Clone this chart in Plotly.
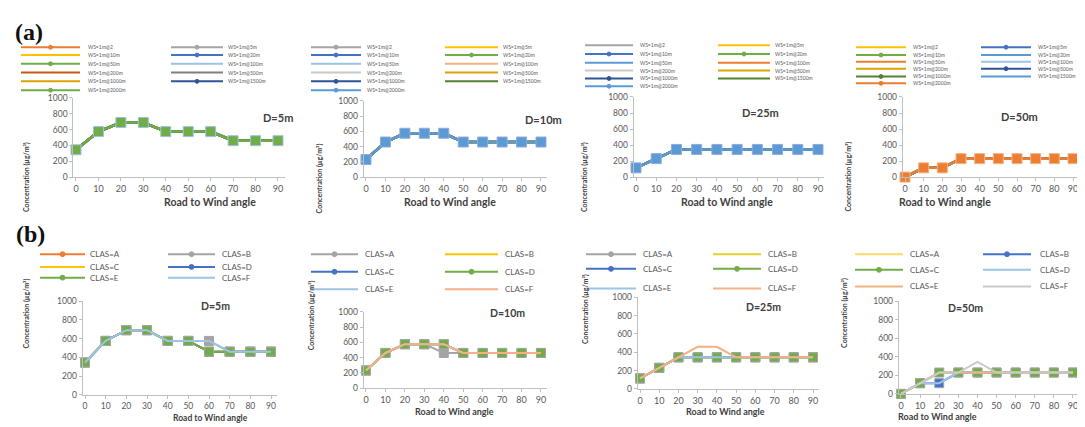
import plotly.graph_objects as go

W, H = 1085, 427

# ---------------- data ----------------
angles = [0, 10, 20, 30, 40, 50, 60, 70, 80, 90]
x_tick_vals = [0, 10, 20, 30, 40, 50, 60, 70, 80, 90]
y_tick_vals = [0, 200, 400, 600, 800, 1000]

distance_titles = ["D=5m", "D=10m", "D=25m", "D=50m"]

# (a) all eleven series overlap in every panel
a_d5 = [345, 575, 690, 690, 575, 575, 575, 460, 460, 460]
a_d10 = [230, 460, 575, 575, 575, 460, 460, 460, 460, 460]
a_d25 = [115, 230, 345, 345, 345, 345, 345, 345, 345, 345]
a_d50 = [0, 115, 115, 230, 230, 230, 230, 230, 230, 230]

a_labels = ["WS=1m@2", "WS=1m@5m", "WS=1m@10m", "WS=1m@20m", "WS=1m@50m", "WS=1m@100m",
            "WS=1m@200m", "WS=1m@500m", "WS=1m@1000m", "WS=1m@1500m", "WS=1m@2000m"]

# (b) stability classes
b_labels = ["CLAS=A", "CLAS=B", "CLAS=C", "CLAS=D", "CLAS=E", "CLAS=F"]

b_d5_A = [345, 575, 690, 690, 575, 575, 460, 460, 460, 460]
b_d5_B = [345, 575, 690, 690, 575, 575, 575, 460, 460, 460]
b_d5_C = [345, 575, 690, 690, 575, 575, 460, 460, 460, 460]
b_d5_D = [345, 575, 690, 690, 575, 575, 460, 460, 460, 460]
b_d5_E = [345, 575, 690, 690, 575, 575, 460, 460, 460, 460]
b_d5_F = [345, 575, 690, 690, 575, 575, 575, 460, 460, 460]

b_d10_A = [230, 460, 575, 575, 460, 460, 460, 460, 460, 460]
b_d10_B = [230, 460, 575, 575, 575, 460, 460, 460, 460, 460]
b_d10_C = [230, 460, 575, 575, 575, 460, 460, 460, 460, 460]
b_d10_D = [230, 460, 575, 575, 575, 460, 460, 460, 460, 460]
b_d10_E = [230, 460, 575, 575, 575, 460, 460, 460, 460, 460]
b_d10_F = [230, 460, 575, 575, 575, 460, 460, 460, 460, 460]

b_d25_A = [115, 230, 345, 345, 345, 345, 345, 345, 345, 345]
b_d25_B = [115, 230, 345, 345, 345, 345, 345, 345, 345, 345]
b_d25_C = [115, 230, 345, 345, 345, 345, 345, 345, 345, 345]
b_d25_D = [115, 230, 345, 345, 345, 345, 345, 345, 345, 345]
b_d25_E = [115, 230, 345, 345, 345, 345, 345, 345, 345, 345]
b_d25_F = [115, 230, 345, 460, 460, 345, 345, 345, 345, 345]

b_d50_A = [0, 115, 230, 230, 230, 230, 230, 230, 230, 230]
b_d50_B = [0, 115, 115, 230, 230, 230, 230, 230, 230, 230]
b_d50_C = [0, 115, 230, 230, 230, 230, 230, 230, 230, 230]
b_d50_D = [0, 115, 115, 230, 230, 230, 230, 230, 230, 230]
b_d50_E = [0, 115, 230, 230, 230, 230, 230, 230, 230, 230]
b_d50_F = [0, 115, 230, 230, 345, 230, 230, 230, 230, 230]

a_values = [a_d5, a_d10, a_d25, a_d50]
b_values = [
    [b_d5_A, b_d5_B, b_d5_C, b_d5_D, b_d5_E, b_d5_F],
    [b_d10_A, b_d10_B, b_d10_C, b_d10_D, b_d10_E, b_d10_F],
    [b_d25_A, b_d25_B, b_d25_C, b_d25_D, b_d25_E, b_d25_F],
    [b_d50_A, b_d50_B, b_d50_C, b_d50_D, b_d50_E, b_d50_F],
]

# ---------------- styles / geometry ----------------
OR, GR, GO, BL, GN, LB = "#ED7D31", "#A5A5A5", "#FFC000", "#4472C4", "#70AD47", "#9DC3E6"
DOR, DGR, DGO, DBL, DGN = "#C55A11", "#7F7F7F", "#D9A400", "#2F5597", "#548235"
SAL, LGR = "#F4B183", "#C9C9C9"

a_styles = [
    dict(colors=[OR, GR, GO, BL, GN, LB, DOR, DGR, DGO, DBL, GN],
         marks=[1, 1, 0, 1, 1, 0, 0, 0, 0, 1, 1], top=10, medge="#9DC3E6"),
    dict(colors=[GR, GO, BL, GN, LB, SAL, LGR, DGO, DBL, DGN, "#5B9BD5"],
         marks=[1, 0, 1, 1, 0, 0, 0, 0, 1, 0, 1], top=10, medge="#8FAADC"),
    dict(colors=[GR, GO, BL, GN, "#5B9BD5", OR, LGR, DGO, DBL, DGN, "#5B9BD5"],
         marks=[0, 0, 1, 1, 0, 0, 0, 0, 1, 0, 1], top=10, medge="#8FAADC"),
    dict(colors=[GO, BL, GN, "#5B9BD5", OR, LB, DGO, DBL, DGN, "#5B9BD5", OR],
         marks=[0, 1, 1, 0, 0, 0, 0, 1, 1, 0, 1], top=10, medge="#F4B183"),
]
b_styles = [
    dict(colors=[OR, GR, GO, BL, GN, LB], marks=[1, 1, 0, 1, 1, 0]),
    dict(colors=[GR, GO, BL, GN, LB, SAL], marks=[1, 0, 1, 1, 0, 0]),
    dict(colors=[GR, "#E6CF2E", BL, GN, LB, SAL], marks=[1, 0, 1, 1, 0, 0]),
    dict(colors=["#FFD966", BL, GN, LB, SAL, LGR], marks=[0, 1, 1, 0, 0, 0]),
]

# pixel geometry: x of angle 0, x of angle 90, y of 1000, y of 0
a_geo = [(68, 270, 87, 168), (358, 533, 90, 168), (628, 810, 86, 168), (897, 1065, 86, 168)]
b_geo = [(77, 263, 295, 391), (358, 533, 306, 384), (632, 805, 291, 385), (893, 1065, 295, 390)]

# legends: (left line x0, x1, left text x, right line x0, x1, right text x, rows y)
a_leg = [
    (13, 72, 78, 163, 215, 218, [35, 43, 52, 61, 70, 79]),
    (303, 353, 357, 437, 490, 493, [35, 43, 52, 61, 70, 79]),
    (577, 625, 630, 710, 762, 765, [33, 42, 51, 59, 67, 75]),
    (848, 898, 903, 973, 1023, 1028, [35, 43, 50, 57, 65, 72]),
]
b_leg = [
    (32, 77, 80, 160, 207, 212, [247, 260, 271]),
    (303, 350, 355, 437, 490, 495, [247, 265, 283]),
    (578, 628, 633, 705, 753, 758, [247, 262, 282]),
    (847, 895, 900, 975, 1023, 1030, [247, 263, 280]),
]

# axis titles / D labels positions
a_ytitle_x = [12, 305, 577, 847]
b_ytitle_x = [12, 297, 577, 843]
a_xtitle = [(154, 194), (442, 194), (719, 194), (985, 194)]
b_xtitle = [(163, 422), (446, 416), (717, 416), (971, 421)]
b_xtitle_size = [8.5, 9, 9, 9]
a_dlab = [(253, 98), (535, 100), (773, 93), (1032, 97)]
b_dlab = [(191, 308), (499, 315), (775, 309), (977, 310)]

FONT = "Lato"
TXT = "#404040"
TICK = "#595959"
AXL = "#BFBFBF"


def px(x):
    return x / W


def py(y):
    return 1 - y / H


fig = go.Figure()
shapes = []
annotations = []
layout_axes = {}

XMIN, XMAX = -1.2, 93


def add_axes(k, geo, xfont=9):
    x0p, x90p, ytop, ybot = geo
    s = (x90p - x0p) / 90.0
    dx = [px(x0p + XMIN * s), px(min(x0p + XMAX * s, W - 1))]
    dy = [py(ybot), py(ytop)]
    xn = "xaxis" if k == 1 else f"xaxis{k}"
    yn = "yaxis" if k == 1 else f"yaxis{k}"
    ya = "y" if k == 1 else f"y{k}"
    xa = "x" if k == 1 else f"x{k}"
    xmax = (dx[1] * W - x0p) / s
    layout_axes[xn] = dict(domain=dx, range=[XMIN, xmax], anchor=ya, tickvals=x_tick_vals,
                           showline=True, linecolor=AXL, linewidth=1, ticks="outside",
                           ticklen=3, tickcolor=AXL, showgrid=False, zeroline=False,
                           ticklabeloverflow="allow",
                           tickfont=dict(family=FONT, size=xfont, color=TICK))
    layout_axes[yn] = dict(domain=dy, range=[0, 1000], anchor=xa, tickvals=y_tick_vals,
                           showline=True, linecolor=AXL, linewidth=1, ticks="outside",
                           ticklen=3, tickcolor=AXL, showgrid=False, zeroline=False,
                           tickfont=dict(family=FONT, size=8.5, color=TICK))
    return xa, ya


def legend_entry(lx0, lx1, tx, y, color, mark, label, fsize, msize):
    shapes.append(dict(type="line", xref="paper", yref="paper", x0=px(lx0), x1=px(lx1),
                       y0=py(y), y1=py(y), line=dict(color=color, width=2)))
    if mark:
        cx = (lx0 + lx1) / 2.0
        shapes.append(dict(type="circle", xref="paper", yref="paper",
                           x0=px(cx - msize / 2), x1=px(cx + msize / 2),
                           y0=py(y + msize / 2), y1=py(y - msize / 2),
                           fillcolor=color, line=dict(color=color, width=1)))
    annotations.append(dict(x=px(tx), y=py(y), xref="paper", yref="paper", text=label,
                            showarrow=False, xanchor="left", yanchor="middle",
                            font=dict(family=FONT, size=fsize, color=TICK)))


# ---------------- panel (a) ----------------
for p in range(4):
    k = p + 1
    xa, ya = add_axes(k, a_geo[p])
    st = a_styles[p]
    order = [i for i in range(11) if i != st["top"]] + [st["top"]]
    for i in order:
        col = st["colors"][i]
        mk = st["marks"][i]
        fig.add_trace(go.Scatter(
            x=angles, y=a_values[p], xaxis=xa, yaxis=ya, showlegend=False,
            mode="lines+markers" if mk else "lines", cliponaxis=False,
            line=dict(color=col, width=2.5),
            marker=dict(symbol="square", size=10 if i == st["top"] else 6, color=col,
                        line=dict(color=st["medge"] if i == st["top"] else col, width=1)),
            name=a_labels[i]))
    lx0, lx1, ltx, rx0, rx1, rtx, rows = a_leg[p]
    for i in range(11):
        r = i // 2
        if i % 2 == 0:
            legend_entry(lx0, lx1, ltx, rows[r], st["colors"][i], st["marks"][i], a_labels[i], 5, 4)
        else:
            legend_entry(rx0, rx1, rtx, rows[r], st["colors"][i], st["marks"][i], a_labels[i], 5, 4)
    annotations.append(dict(x=px(a_ytitle_x[p]), y=py((a_geo[p][2] + a_geo[p][3]) / 2 + 3),
                            xref="paper", yref="paper", text="<b>Concentration (µg/m³)</b>",
                            textangle=-90, showarrow=False,
                            font=dict(family=FONT, size=7, color=TXT)))
    annotations.append(dict(x=px(a_xtitle[p][0]), y=py(a_xtitle[p][1]), xref="paper", yref="paper",
                            text="<b>Road to Wind angle</b>", showarrow=False,
                            font=dict(family=FONT, size=10.5, color=TXT)))
    annotations.append(dict(x=px(a_dlab[p][0]), y=py(a_dlab[p][1]), xref="paper", yref="paper",
                            text=f"<b>{distance_titles[p]}</b>", showarrow=False,
                            font=dict(family=FONT, size=11, color=TXT)))

# ---------------- panel (b) ----------------
for p in range(4):
    k = p + 5
    xa, ya = add_axes(k, b_geo[p], xfont=8.5 if p == 0 else 9)
    st = b_styles[p]
    for i in range(6):
        col = st["colors"][i]
        mk = st["marks"][i]
        fig.add_trace(go.Scatter(
            x=angles, y=b_values[p][i], xaxis=xa, yaxis=ya, showlegend=False,
            mode="lines+markers" if mk else "lines", cliponaxis=False,
            line=dict(color=col, width=2),
            marker=dict(symbol="square", size=9, color=col, line=dict(color=GR, width=1)),
            name=b_labels[i]))
    lx0, lx1, ltx, rx0, rx1, rtx, rows = b_leg[p]
    for i in range(6):
        r = i // 2
        if i % 2 == 0:
            legend_entry(lx0, lx1, ltx, rows[r], st["colors"][i], st["marks"][i], b_labels[i], 8, 5)
        else:
            legend_entry(rx0, rx1, rtx, rows[r], st["colors"][i], st["marks"][i], b_labels[i], 8, 5)
    annotations.append(dict(x=px(b_ytitle_x[p]), y=py((b_geo[p][2] + b_geo[p][3]) / 2 + 3),
                            xref="paper", yref="paper", text="<b>Concentration (µg/m³)</b>",
                            textangle=-90, showarrow=False,
                            font=dict(family=FONT, size=7, color=TXT)))
    annotations.append(dict(x=px(b_xtitle[p][0]), y=py(b_xtitle[p][1]), xref="paper", yref="paper",
                            text="<b>Road to Wind angle</b>", showarrow=False,
                            font=dict(family=FONT, size=b_xtitle_size[p], color=TXT)))
    annotations.append(dict(x=px(b_dlab[p][0]), y=py(b_dlab[p][1]), xref="paper", yref="paper",
                            text=f"<b>{distance_titles[p]}</b>", showarrow=False,
                            font=dict(family=FONT, size=10.5, color=TXT)))

# panel letters
annotations.append(dict(x=px(5), y=py(4), xref="paper", yref="paper", text="<b>(a)</b>",
                        showarrow=False, xanchor="left", yanchor="top",
                        font=dict(family="Liberation Serif", size=24, color="#111111")))
annotations.append(dict(x=px(6), y=py(211), xref="paper", yref="paper", text="<b>(b)</b>",
                        showarrow=False, xanchor="left", yanchor="top",
                        font=dict(family="Liberation Serif", size=24, color="#111111")))

fig.update_layout(width=W, height=H, margin=dict(l=0, r=0, t=0, b=0),
                  paper_bgcolor="white", plot_bgcolor="white", showlegend=False,
                  shapes=shapes, annotations=annotations, **layout_axes)

fig.write_html("out.html")
